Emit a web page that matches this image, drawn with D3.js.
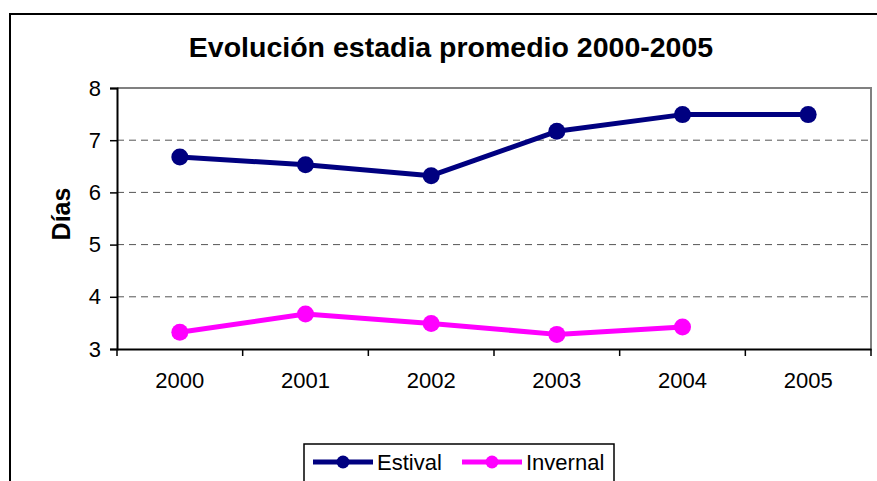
<!DOCTYPE html>
<html>
<head>
<meta charset="utf-8">
<script src="https://cdn.jsdelivr.net/npm/d3@7"></script>
<style>
  html, body { margin: 0; padding: 0; background: #fff; }
  svg { display: block; font-family: "Liberation Sans", Arial, sans-serif; }
</style>
</head>
<body>
<svg id="chart" width="877" height="481"></svg>
<script>
// Average stay (days) per season, 2000-2005
const years = ["2000", "2001", "2002", "2003", "2004", "2005"];
const estival = [6.68, 6.53, 6.32, 7.17, 7.49, 7.49];
const invernal = [3.32, 3.67, 3.49, 3.28, 3.42, null];
const yTicks = [3, 4, 5, 6, 7, 8];

const series = [
  { name: "Estival", values: estival, color: "#000080" },
  { name: "Invernal", values: invernal, color: "#FF00FF" }
];

const svg = d3.select("#chart");
const plot = { left: 117, right: 871, top: 88, bottom: 349 };

const x = d3.scaleBand().domain(years).range([plot.left, plot.right]).padding(0);
const y = d3.scaleLinear().domain([3, 8]).range([plot.bottom, plot.top]);

// outer chart frame
svg.append("rect")
  .attr("x", 10).attr("y", 14).attr("width", 900).attr("height", 500)
  .attr("fill", "#fff").attr("stroke", "#000").attr("stroke-width", 2);

// title
svg.append("text")
  .attr("x", 451).attr("y", 57)
  .attr("text-anchor", "middle")
  .attr("font-weight", "bold").attr("font-size", 28.5)
  .text("Evolución estadia promedio 2000-2005");

// dashed gridlines
svg.append("g").selectAll("line")
  .data(yTicks.filter(t => t > 3 && t < 8))
  .join("line")
  .attr("x1", plot.left).attr("x2", plot.right)
  .attr("y1", d => y(d)).attr("y2", d => y(d))
  .attr("stroke", "#555").attr("stroke-width", 1)
  .attr("stroke-dasharray", "7,5");

// plot area border (top and right)
svg.append("path")
  .attr("d", `M${plot.left},${y(8)}H${plot.right}V${plot.bottom}`)
  .attr("fill", "none").attr("stroke", "#808080").attr("stroke-width", 2);

// y axis
const yAxis = svg.append("g")
  .attr("transform", `translate(${plot.left},0)`)
  .call(d3.axisLeft(y).tickValues(yTicks).tickSize(7).tickPadding(9).tickFormat(d3.format("d")));
yAxis.select(".domain").attr("stroke", "#000").attr("stroke-width", 2);
yAxis.selectAll(".tick line").attr("stroke", "#000").attr("stroke-width", 1.5);
yAxis.selectAll(".tick text").attr("font-size", 22).attr("fill", "#000")
  .attr("font-family", "Liberation Sans, Arial, sans-serif");

// x axis: labels centred in each band, ticks on band boundaries
const xAxis = svg.append("g")
  .attr("transform", `translate(0,${plot.bottom})`)
  .call(d3.axisBottom(x).tickSize(0).tickPadding(23));
xAxis.select(".domain").attr("stroke", "#000").attr("stroke-width", 2);
xAxis.selectAll(".tick text").attr("font-size", 22).attr("fill", "#000")
  .attr("font-family", "Liberation Sans, Arial, sans-serif");
const bounds = years.map(d => x(d)).concat([x(years[years.length - 1]) + x.bandwidth()]);
xAxis.selectAll(".bound").data(bounds).join("line")
  .attr("class", "bound")
  .attr("x1", d => d).attr("x2", d => d)
  .attr("y1", 0).attr("y2", 7)
  .attr("stroke", "#000").attr("stroke-width", 1.5);

// y axis title
svg.append("text")
  .attr("transform", `translate(70,214) rotate(-90)`)
  .attr("text-anchor", "middle")
  .attr("font-weight", "bold").attr("font-size", 25)
  .text("Días");

// lines and markers
const cx = (i) => x(years[i]) + x.bandwidth() / 2;
const line = d3.line()
  .defined(d => d != null)
  .x((d, i) => cx(i))
  .y(d => y(d));

series.forEach(s => {
  svg.append("path")
    .datum(s.values)
    .attr("d", line)
    .attr("fill", "none")
    .attr("stroke", s.color).attr("stroke-width", 5)
    .attr("stroke-linejoin", "round");
  svg.append("g").selectAll("circle")
    .data(s.values.map((v, i) => ({ v, i })).filter(d => d.v != null))
    .join("circle")
    .attr("cx", d => cx(d.i)).attr("cy", d => y(d.v))
    .attr("r", 8.5).attr("fill", s.color);
});

// legend
const legend = svg.append("g");
legend.append("rect")
  .attr("x", 304).attr("y", 444).attr("width", 310).attr("height", 60)
  .attr("fill", "#fff").attr("stroke", "#000").attr("stroke-width", 1.5);
const legendPos = [{ x: 313, tx: 377 }, { x: 462, tx: 526 }];
series.forEach((s, k) => {
  const p = legendPos[k];
  legend.append("line")
    .attr("x1", p.x).attr("x2", p.x + 60)
    .attr("y1", 462).attr("y2", 462)
    .attr("stroke", s.color).attr("stroke-width", 5);
  legend.append("circle")
    .attr("cx", p.x + 30).attr("cy", 462).attr("r", 6.5).attr("fill", s.color);
  legend.append("text")
    .attr("x", p.tx).attr("y", 470)
    .attr("font-size", 22).attr("fill", "#000")
    .text(s.name);
});
</script>
</body>
</html>
